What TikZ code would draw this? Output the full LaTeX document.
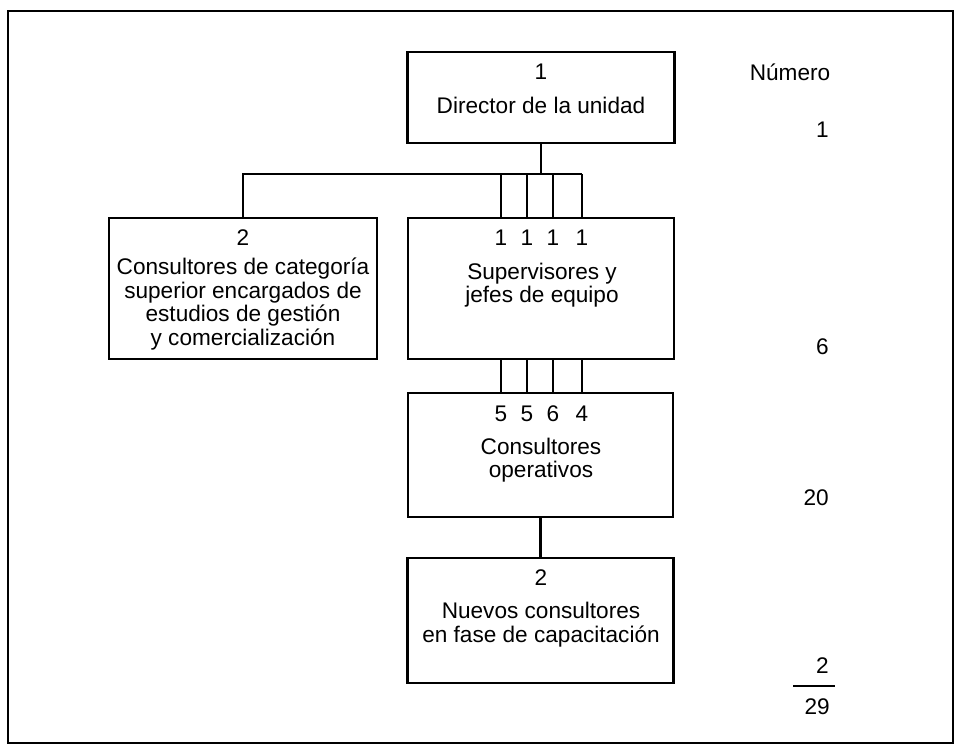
\documentclass[tikz,border=0pt]{standalone}
\usepackage{fontspec}
\setmainfont{Liberation Sans}
\begin{document}
\begin{tikzpicture}[x=0.5pt,y=-0.5pt,line width=1.2pt]
\tikzset{
  unitbox/.style={draw, inner sep=0pt},
  lbl/.style={align=center, font=\fontsize{11.3}{11.8}\selectfont, inner sep=0pt},
}
\useasboundingbox (0,0) rectangle (955,745);
\draw[line width=1pt] (8,11) rectangle (953,743);

% boxes
\node[unitbox, minimum width=133.5pt, minimum height=45.5pt] (dir) at (541,97.5) {};
\node[unitbox, minimum width=134pt, minimum height=70.5pt] (sen) at (243,288.5) {};
\node[unitbox, minimum width=133pt, minimum height=70.5pt] (sup) at (541,288.5) {};
\node[unitbox, minimum width=132.5pt, minimum height=62pt] (ope) at (540.5,455) {};
\node[unitbox, minimum width=133pt, minimum height=62.5pt] (nue) at (540.5,620.5) {};

% texts
\node[lbl] (dir-n) at (541,72) {1};
\node[lbl] (dir-t) at (541,105) {Director de la unidad};
\node[lbl] (sen-n) at (243,238) {2};
\node[lbl] (sen-t) at (243,304) {Consultores de categoría\\superior encargados de\\estudios de gestión\\y comercialización};
\node[lbl] (sup-t) at (542,285) {Supervisores y\\jefes de equipo};
\node[lbl] (ope-t) at (541,460) {Consultores\\operativos};
\node[lbl] (nue-n) at (541,578) {2};
\node[lbl] (nue-t) at (541,624.5) {Nuevos consultores\\en fase de capacitación};

% connectors
\coordinate (bus) at (541,174);
\foreach \x/\a/\b [count=\i] in {501/1/5, 527/1/5, 553/1/6, 582/1/4} {
  \node[lbl] (sup-\i) at (\x,238) {\a};
  \node[lbl] (ope-\i) at (\x,414) {\b};
  \draw (sup-\i |- bus) -- (sup-\i |- sup.north);
  \draw (ope-\i |- sup.south) -- (ope-\i |- ope.north);
}
\draw (dir.south) -- (bus);
\draw (sen.north) |- (bus) -- (sup-4 |- bus);
\draw (ope.south) -- (nue.north);

% right column
\node[lbl] (num-h) at (790,72) {Número};
\node[lbl, anchor=east] (num-1) at (830,130) {1};
\node[lbl, anchor=east] (num-6) at (830,347) {6};
\node[lbl, anchor=east] (num-20) at (830,498) {20};
\node[lbl, anchor=east] (num-2) at (830,666) {2};
\node[lbl, anchor=east] (num-tot) at (831,707) {29};
\coordinate (rule-l) at (793,686);
\coordinate (rule-r) at (835,686);
\draw (rule-l) -- (rule-r);
\end{tikzpicture}
\end{document}
